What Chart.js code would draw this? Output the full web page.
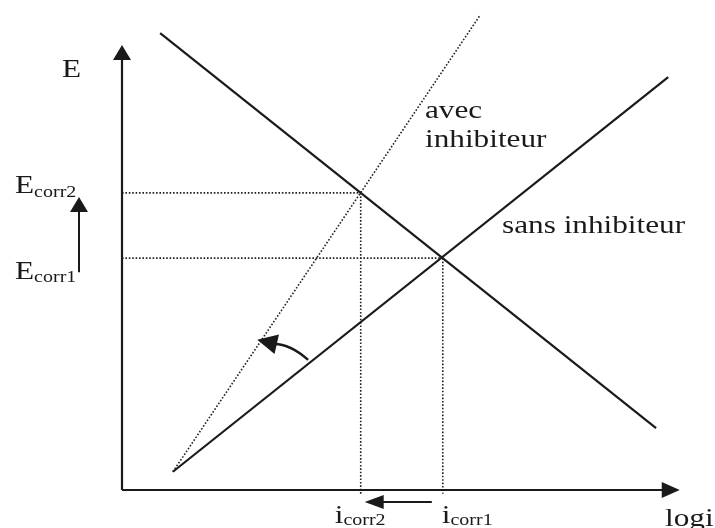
<!DOCTYPE html>
<html>
<head>
<meta charset="utf-8">
<script src="https://cdn.jsdelivr.net/npm/chart.js@4.4.1/dist/chart.umd.min.js"></script>
<style>
  body { margin: 0; background: #fff; }
</style>
</head>
<body>
<canvas id="evans" width="715" height="528"></canvas>
<script>
// ---- data (log i on x, E on y, arbitrary units) ----
const sansX = [0.88, 9.45];      // sans inhibiteur (cathodic)
const sansY = [0.38, 8.60];
const avecX = [0.88, 6.20];      // avec inhibiteur (dotted)
const avecY = [0.38, 9.90];
const anodX = [0.66, 9.24];      // anodic line
const anodY = [9.52, 1.29];
const eCorr = [4.83, 6.19];      // Ecorr1, Ecorr2
const iCorr = [5.55, 4.13];      // icorr1, icorr2
const axisEnd = [9.65, 9.27];    // x arrow tip, y arrow tip

const ink = "#1a1a1a";

function pts(xs, ys) {
    return xs.map((x, i) => ({x: x, y: ys[i]}));
}

function solid(xs, ys, w) {
    return { data: pts(xs, ys), borderColor: ink, borderWidth: w, pointRadius: 0, clip: false };
}

function dotted(xs, ys) {
    return { data: pts(xs, ys), borderColor: "#222", borderWidth: 1.6, borderDash: [1.6, 1.8], pointRadius: 0, clip: false };
}

let datasets = [
    solid([0, axisEnd[0] - 0.2], [0, 0], 2.2),
    solid([0, 0], [0, axisEnd[1] - 0.2], 2.2),
    solid(anodX, anodY, 2.2),
    solid(sansX, sansY, 2.2),
    dotted(avecX, avecY)
];
for (let i = 0; i < eCorr.length; i++) {
    datasets.push(dotted([0, iCorr[i]], [eCorr[i], eCorr[i]]));
    datasets.push(dotted([iCorr[i], iCorr[i]], [eCorr[i], -0.08]));
}

// ------------ text helper (serif, slightly stretched like the scan) ------------
function txt(ctx, s, x, y, size) {
    ctx.save();
    ctx.font = size + 'px "Liberation Serif", "DejaVu Serif", serif';
    ctx.fillStyle = ink;
    ctx.textBaseline = "alphabetic";
    ctx.translate(x, y);
    ctx.scale(1.25, 1);
    ctx.fillText(s, 0, 0);
    let w = ctx.measureText(s).width * 1.25;
    ctx.restore();
    return w;
}

function tri(ctx, tipX, tipY, dirX, dirY, len, half) {
    let bx = tipX - dirX * len, by = tipY - dirY * len;
    ctx.beginPath();
    ctx.moveTo(tipX, tipY);
    ctx.lineTo(bx - dirY * half, by + dirX * half);
    ctx.lineTo(bx + dirY * half, by - dirX * half);
    ctx.closePath();
    ctx.fill();
}

const decor = {
    id: "decor",
    afterDatasetsDraw(chart) {
        const ctx = chart.ctx;
        const sx = chart.scales.x, sy = chart.scales.y;
        const x0 = sx.getPixelForValue(0), y0 = sy.getPixelForValue(0);
        ctx.save();
        ctx.fillStyle = ink;
        ctx.strokeStyle = ink;

        // axis arrow heads
        tri(ctx, x0, sy.getPixelForValue(axisEnd[1]), 0, -1, 15, 9);
        tri(ctx, sx.getPixelForValue(axisEnd[0]), y0, 1, 0, 18, 8);

        // E labels
        txt(ctx, "E", 62, 77, 25);
        let e2 = sy.getPixelForValue(eCorr[1]);
        let w = txt(ctx, "E", 15, e2, 25);
        txt(ctx, "corr2", 15 + w, e2 + 4, 16);
        let e1 = sy.getPixelForValue(eCorr[0]);
        w = txt(ctx, "E", 15, e1 + 21, 25);
        txt(ctx, "corr1", 15 + w, e1 + 24, 16);

        // up arrow between Ecorr1 and Ecorr2
        ctx.lineWidth = 2;
        ctx.beginPath();
        ctx.moveTo(79, e1 + 14);
        ctx.lineTo(79, e2 + 14);
        ctx.stroke();
        tri(ctx, 79, e2 + 4, 0, -1, 15, 9);

        // i labels
        let i2 = sx.getPixelForValue(iCorr[1]);
        w = txt(ctx, "i", i2 - 26, 523, 25);
        txt(ctx, "corr2", i2 - 26 + w, 525, 16);
        let i1 = sx.getPixelForValue(iCorr[0]);
        w = txt(ctx, "i", i1 - 1, 523, 25);
        txt(ctx, "corr1", i1 - 1 + w, 525, 16);

        // left arrow between icorr1 and icorr2
        ctx.beginPath();
        ctx.moveTo(i1 - 11, 502);
        ctx.lineTo(i2 + 18, 502);
        ctx.stroke();
        tri(ctx, i2 + 4, 502, -1, 0, 19, 7);

        txt(ctx, "logi", 665, 526, 25);
        txt(ctx, "avec", 425, 118, 25);
        txt(ctx, "inhibiteur", 425, 147, 25);
        txt(ctx, "sans inhibiteur", 502, 233, 25);

        // curved arrow: solid line -> dotted line
        let ax = sx.getPixelForValue(3.22), ay = sy.getPixelForValue(2.71);
        let cx = sx.getPixelForValue(2.90), cy = sy.getPixelForValue(3.05);
        let hx = sx.getPixelForValue(2.62), hy = sy.getPixelForValue(3.04);
        ctx.lineWidth = 2.5;
        ctx.beginPath();
        ctx.moveTo(ax, ay);
        ctx.quadraticCurveTo(cx, cy, hx, hy);
        ctx.stroke();
        let tx = sx.getPixelForValue(2.34), ty = sy.getPixelForValue(3.13);
        let dx = tx - hx + 6, dy = ty - hy + 2, d = Math.hypot(dx, dy);
        tri(ctx, tx, ty, dx / d, dy / d, 20, 10);

        ctx.restore();
    }
};

new Chart(document.getElementById("evans"), {
    type: "line",
    data: { datasets: datasets },
    options: {
        responsive: false,
        animation: false,
        layout: { padding: { left: 122, right: 15, top: 10, bottom: 38 } },
        plugins: { legend: { display: false }, tooltip: { enabled: false } },
        scales: {
            x: { type: "linear", min: 0, max: 10, display: false },
            y: { type: "linear", min: 0, max: 10, display: false }
        }
    },
    plugins: [decor]
});
</script>
</body>
</html>
